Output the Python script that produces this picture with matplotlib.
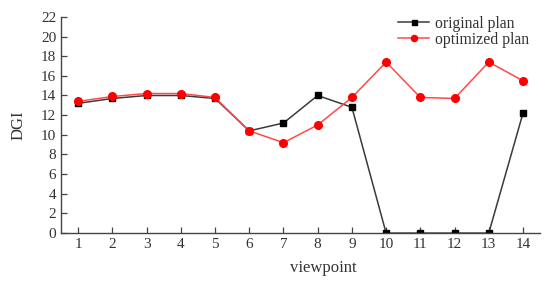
import matplotlib
matplotlib.use("Agg")
import matplotlib.pyplot as plt

viewpoints = list(range(1, 15))
original = [13.2, 13.7, 14.0, 14.0, 13.7, 10.4, 11.2, 14.0, 12.8, 0, 0, 0, 0, 12.2]
optimized = [13.4, 13.9, 14.2, 14.2, 13.8, 10.4, 9.2, 11.0, 13.8, 17.4, 13.8, 13.7, 17.4, 15.5]
yticks = list(range(0, 23, 2))

plt.rcParams['font.family'] = ['Liberation Serif', 'DejaVu Serif']
fig = plt.figure(figsize=(5.5, 2.86), dpi=100)
ax = fig.add_axes([0.111, 0.185, 0.871, 0.756])

ax.plot(viewpoints, original, color='#3a3a3a', lw=1.1, marker='s', ms=4.5,
        markerfacecolor='black', markeredgecolor='black', label='original plan', zorder=2)
ax.plot(viewpoints, optimized, color='#ff4a4a', lw=1.1, marker='o', ms=5.5,
        markerfacecolor='#ff0000', markeredgecolor='#ff0000', label='optimized plan', zorder=3)

ax.set_xlim(0.5, 14.5)
ax.set_ylim(0, 22)
ax.set_xticks(viewpoints)
ax.set_yticks(yticks)
for s in ['top', 'right']:
    ax.spines[s].set_visible(False)
for s in ['left', 'bottom']:
    ax.spines[s].set_color('#444444')
    ax.spines[s].set_linewidth(1.0)
ax.tick_params(direction='in', length=4, width=0.9, colors='#444444', labelsize=11, labelcolor='#333333')
ax.set_ylabel('DGI', fontsize=12, color='#333333')
ax.yaxis.set_label_coords(-0.073, 0.5)
ax.set_xlabel('viewpoint', fontsize=12, color='#333333')
ax.xaxis.set_label_coords(0.547, -0.125)

leg = ax.legend(loc='upper left', bbox_to_anchor=(0.703, 1.006), frameon=False, fontsize=11.3,
                handlelength=2.0, handletextpad=0.4, labelspacing=0.0, borderaxespad=0, borderpad=0,
                markerscale=0.8)
for t in leg.get_texts():
    t.set_color('#333333')

fig.savefig('out.png', dpi=100)
